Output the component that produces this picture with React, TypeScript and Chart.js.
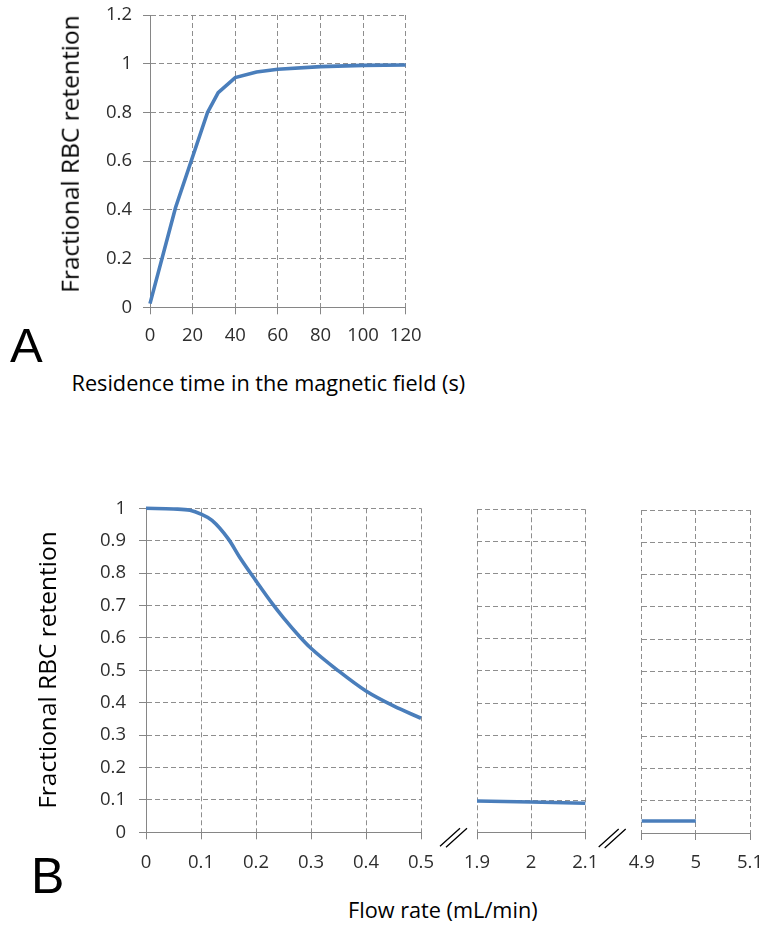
import React, { useEffect, useRef } from 'react';
import { Chart, registerables } from 'chart.js';

Chart.register(...registerables);

// ---------- Panel A data ----------
const residenceTime = [0, 12, 27, 32, 40, 50, 60, 80, 100, 120];
const retentionA = [0.015, 0.41, 0.8, 0.881, 0.943, 0.966, 0.977, 0.988, 0.993, 0.995];
const axisA_X = [0, 120, 20]; // min, max, step
const axisA_Y = [0, 1.2, 0.2];

// ---------- Panel B data (broken x axis: three segments) ----------
const flowRate1 = [0, 0.05, 0.08, 0.1, 0.12, 0.15, 0.17, 0.2, 0.23, 0.25, 0.28, 0.3, 0.35, 0.4, 0.45, 0.5];
const retentionB1 = [1, 0.998, 0.994, 0.982, 0.963, 0.905, 0.85, 0.776, 0.705, 0.662, 0.603, 0.568, 0.498, 0.436, 0.39, 0.352];
const flowRate2 = [1.9, 2, 2.1];
const retentionB2 = [0.097, 0.094, 0.09];
const flowRate3 = [4.9, 5];
const retentionB3 = [0.037, 0.037];
const axisB1_X = [0, 0.5, 0.1];
const axisB2_X = [1.9, 2.1, 0.1];
const axisB3_X = [4.9, 5.1, 0.1];
const axisB_Y = [0, 1, 0.1];

const yTitle = 'Fractional RBC retention';
const xTitleA = 'Residence time in the magnetic field (s)';
const xTitleB = 'Flow rate (mL/min)';

// ---------- styles ----------
const FONT = "'Open Sans', sans-serif";
const GRID = '#8e8e8e';
const AXIS = '#868686';
const TICK = '#2e2e2e';
const LINE = '#4a7ebb';
const DASH = [5, 3];
const TICK_SIZE = 18.5;

const fmt = (v: any) => String(Math.round(Number(v) * 1000) / 1000);

const zeroPad = (s: any) => {
  s.paddingTop = 0;
  s.paddingBottom = 0;
  s.paddingLeft = 0;
  s.paddingRight = 0;
};

function xScale(r: number[], height: number, pad: number) {
  return {
    type: 'linear',
    min: r[0],
    max: r[1],
    afterFit: (s: any) => { s.height = height; zeroPad(s); },
    ticks: {
      stepSize: r[2], padding: pad, color: TICK, maxRotation: 0, autoSkip: false,
      font: { family: FONT, size: TICK_SIZE }, callback: fmt,
    },
    grid: { color: GRID, lineWidth: 1, tickLength: 7, tickColor: AXIS, tickWidth: 1, tickBorderDash: [], borderDash: DASH },
    border: { display: true, color: AXIS, width: 1, dash: DASH },
  };
}

function yScale(r: number[], width: number, showLabels: boolean, pad: number) {
  return {
    type: 'linear',
    min: r[0],
    max: r[1],
    afterFit: (s: any) => { s.width = width; zeroPad(s); },
    ticks: {
      display: showLabels, stepSize: r[2], padding: pad, color: TICK,
      font: { family: FONT, size: TICK_SIZE }, callback: fmt,
    },
    grid: { color: GRID, lineWidth: 1, tickLength: 7, drawTicks: showLabels, tickColor: AXIS, tickWidth: 1, tickBorderDash: [], borderDash: DASH },
    border: { display: showLabels, color: AXIS, width: 1, dash: DASH },
  };
}

function dataset(xs: number[], ys: number[], smooth: boolean) {
  return {
    data: xs.map((x, i) => ({ x, y: ys[i] })),
    borderColor: LINE,
    backgroundColor: LINE,
    borderWidth: 3.6,
    pointRadius: 0,
    fill: false,
    tension: smooth ? 0.4 : 0,
    cubicInterpolationMode: smooth ? 'monotone' : 'default',
    clip: 6,
  };
}

function breakMark(dx: number) {
  return {
    id: 'breakMark',
    afterDraw(chart: any) {
      const { ctx, chartArea } = chart;
      const x0 = chartArea.left + dx;
      const y0 = chartArea.bottom;
      ctx.save();
      ctx.strokeStyle = '#000';
      ctx.lineWidth = 1.3;
      ctx.beginPath();
      ctx.moveTo(x0 - 37, y0 + 14);
      ctx.lineTo(x0 - 17, y0 - 4);
      ctx.moveTo(x0 - 31, y0 + 15);
      ctx.lineTo(x0 - 10, y0 - 4);
      ctx.stroke();
      ctx.restore();
    },
  };
}

function config(ds: any, xs: any, ys: any, padding: any, plugins: any[] = []) {
  return {
    type: 'line',
    data: { datasets: [ds] },
    options: {
      responsive: false,
      animation: false,
      layout: { padding },
      plugins: { legend: { display: false }, tooltip: { enabled: false } },
      scales: { x: xs, y: ys },
    },
    plugins,
  };
}

function ChartBox(props: { left: number; top: number; width: number; height: number; build: () => any }) {
  const ref = useRef<HTMLCanvasElement>(null);
  useEffect(() => {
    const chart = new Chart(ref.current as HTMLCanvasElement, props.build());
    return () => chart.destroy();
  }, []);
  return (
    <div style={{ position: 'absolute', left: props.left, top: props.top, width: props.width, height: props.height }}>
      <canvas ref={ref} width={props.width} height={props.height} style={{ display: 'block', width: props.width, height: props.height }} />
    </div>
  );
}

const textBase: React.CSSProperties = {
  position: 'absolute',
  whiteSpace: 'nowrap',
  lineHeight: 1,
  fontFamily: FONT,
  color: '#000',
};

function YTitle(props: { x: number; y: number; size: number; children: any }) {
  return (
    <div
      style={{
        ...textBase,
        left: props.x,
        top: props.y,
        fontSize: props.size,
        transform: 'translate(-50%, -50%) rotate(-90deg)',
      }}
    >
      {props.children}
    </div>
  );
}

function XTitle(props: { x: number; y: number; size: number; children: any }) {
  return (
    <div
      style={{
        ...textBase,
        left: props.x,
        top: props.y,
        fontSize: props.size,
        transform: 'translate(0, -50%)',
      }}
    >
      {props.children}
    </div>
  );
}

export default function App() {
  return (
    <div style={{ position: 'absolute', left: 0, top: 0, width: 773, height: 931, background: '#fff', overflow: 'hidden' }}>
      <ChartBox
        left={0} top={0} width={440} height={345}
        build={() => config(dataset(residenceTime, retentionA, false), xScale(axisA_X, 37.7, 10), yScale(axisA_Y, 150, true, 11),
          { left: 0, top: 15, right: 34.3, bottom: 0 })}
      />
      <ChartBox
        left={0} top={480} width={440} height={390}
        build={() => config(dataset(flowRate1, retentionB1, true), xScale(axisB1_X, 37.7, 12), yScale(axisB_Y, 146, true, 13),
          { left: 0, top: 28.3, right: 19, bottom: 0 })}
      />
      <ChartBox
        left={430} top={480} width={180} height={390}
        build={() => config(dataset(flowRate2, retentionB2, false), xScale(axisB2_X, 37.7, 12), yScale(axisB_Y, 0, false, 0),
          { left: 47, top: 29.3, right: 24.7, bottom: 0 }, [breakMark(0)])}
      />
      <ChartBox
        left={595} top={480} width={178} height={390}
        build={() => config(dataset(flowRate3, retentionB3, false), xScale(axisB3_X, 37, 12), yScale(axisB_Y, 0, false, 0),
          { left: 46.7, top: 30, right: 23, bottom: 0 }, [breakMark(-6)])}
      />

      <YTitle x={70.3} y={154} size={24.5}>{yTitle}</YTitle>
      <XTitle x={71.5} y={383} size={21.7}>{xTitleA}</XTitle>
      <YTitle x={47} y={669.5} size={24.5}>{yTitle}</YTitle>
      <XTitle x={348} y={910} size={21.7}>{xTitleB}</XTitle>

      <div style={{ ...textBase, fontFamily: "'Liberation Sans', Arial, sans-serif", fontSize: 49, left: 10, top: 320.6 }}>A</div>
      <div style={{ ...textBase, fontFamily: "'Liberation Sans', Arial, sans-serif", fontSize: 50, left: 31, top: 850.5 }}>B</div>
    </div>
  );
}
